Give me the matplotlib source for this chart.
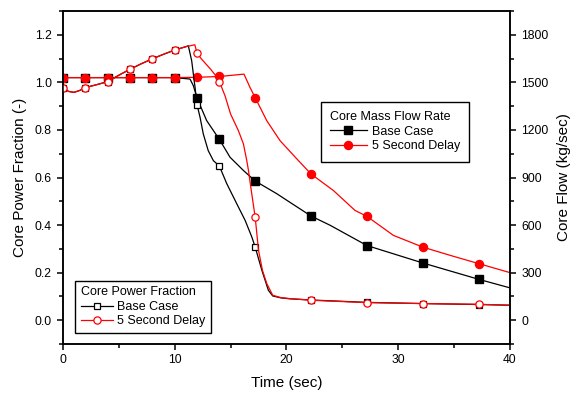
import numpy as np
import matplotlib
matplotlib.use("Agg")
import matplotlib.pyplot as plt
from matplotlib.ticker import MultipleLocator

plt.rcParams['font.family'] = ['Liberation Sans', 'DejaVu Sans']

# --- core power fraction (left axis) ---
t_pow_delay = [0.0, 0.5, 1.0, 1.5, 2.0, 3.0, 4.0, 5.0, 6.0, 7.0, 8.0, 9.0, 10.0,
               11.0, 11.8, 12.0, 12.4, 13.2, 13.8, 14.0, 14.5, 15.0, 15.7, 16.15,
               16.45, 16.6, 16.85, 17.2, 17.5, 17.85, 18.24, 18.77, 19.5, 20.3,
               22.2, 27.2, 32.2, 37.2, 40.0]
pow_delay = [0.978, 0.962, 0.958, 0.966, 0.978, 0.990, 1.003, 1.030, 1.055, 1.078,
             1.099, 1.118, 1.136, 1.150, 1.158, 1.123, 1.098, 1.056, 1.021, 1.003,
             0.944, 0.867, 0.797, 0.741, 0.671, 0.630, 0.546, 0.434, 0.294, 0.210,
             0.154, 0.105, 0.095, 0.091, 0.084, 0.074, 0.070, 0.067, 0.063]

t_pow_base = [0.0, 0.5, 1.0, 1.5, 2.0, 3.0, 4.0, 5.0, 6.0, 7.0, 8.0, 9.0, 10.0,
              11.0, 11.22, 11.52, 11.82, 12.0, 12.27, 12.56, 13.0, 13.46, 14.0,
              14.66, 15.55, 16.3, 16.9, 17.2, 17.8, 18.38, 18.77, 19.5, 20.3,
              22.2, 27.2, 32.2, 37.2, 40.0]
pow_base = [0.978, 0.962, 0.958, 0.966, 0.978, 0.990, 1.003, 1.030, 1.055, 1.078,
            1.099, 1.118, 1.136, 1.150, 1.154, 1.091, 0.979, 0.906, 0.853, 0.783,
            0.713, 0.671, 0.648, 0.574, 0.490, 0.420, 0.350, 0.308, 0.210, 0.126,
            0.102, 0.094, 0.090, 0.085, 0.075, 0.070, 0.066, 0.063]

# --- core mass flow rate (right axis, kg/sec) ---
t_flow_base = [0.0, 2.0, 4.0, 6.0, 8.0, 10.0, 11.37, 11.67, 12.0, 12.86, 14.0,
               14.95, 16.14, 17.2, 19.13, 20.3, 22.2, 23.9, 27.2, 32.2, 37.2, 40.0]
flow_base = [1530, 1530, 1530, 1530, 1530, 1530, 1521, 1479, 1401, 1259, 1140,
             1028, 945, 878, 798, 744, 657, 599, 471, 361, 258, 204]

t_flow_delay = [0.0, 2.0, 4.0, 6.0, 8.0, 10.0, 12.0, 14.0, 16.2, 16.74, 17.2,
                18.24, 19.43, 20.92, 22.2, 24.2, 26.14, 27.2, 29.57, 32.2, 34.65,
                37.2, 40.0]
flow_delay = [1530, 1530, 1530, 1530, 1530, 1530, 1532, 1537, 1552, 1468, 1404,
              1258, 1132, 1018, 922, 818, 692, 655, 535, 461, 409, 357, 300]

# times where the symbols sit
marks_early = [0, 2, 4, 6, 8, 10, 12, 14, 17.2, 22.2, 27.2, 32.2, 37.2]


def mark_idx(t, marks):
    t = np.asarray(t)
    return [int(np.argmin(np.abs(t - m))) for m in marks]


fig = plt.figure(figsize=(5.72, 3.96), dpi=100)
ax = fig.add_axes([0.110, 0.1313, 0.7816, 0.8409])
ax2 = ax.twinx()
ax.set_zorder(ax2.get_zorder() + 1)
ax.patch.set_visible(False)

# flow curves (right axis)
l_fb, = ax2.plot(t_flow_base, flow_base, color='black', lw=0.9, marker='s', ms=5.2,
                 markevery=mark_idx(t_flow_base, marks_early))
l_fd, = ax2.plot(t_flow_delay, flow_delay, color='red', lw=0.9, marker='o', ms=5.8,
                 markevery=mark_idx(t_flow_delay, marks_early))

# power curves (left axis)
l_pb, = ax.plot(t_pow_base, pow_base, color='black', lw=0.9, marker='s', ms=4.8,
                mfc='white', mew=0.9, markevery=mark_idx(t_pow_base, marks_early))
l_pd, = ax.plot(t_pow_delay, pow_delay, color='red', lw=0.9, marker='o', ms=5.2,
                mfc='white', mew=0.9, markevery=mark_idx(t_pow_delay, marks_early))

ax.set_xlim(0, 40)
ax.set_ylim(-0.1, 1.3)
ax2.set_ylim(-150, 1950)

ax.set_xticks([0, 10, 20, 30, 40])
ax.xaxis.set_minor_locator(MultipleLocator(5))
ax.set_yticks([0.0, 0.2, 0.4, 0.6, 0.8, 1.0, 1.2])
ax.yaxis.set_minor_locator(MultipleLocator(0.1))
ax2.set_yticks([0, 300, 600, 900, 1200, 1500, 1800])
ax2.yaxis.set_minor_locator(MultipleLocator(150))

for a in (ax, ax2):
    for s in a.spines.values():
        s.set_linewidth(1.1)
ax.tick_params(which='both', direction='out', top=False, right=False, labelsize=8.7,
               width=1.1, colors='black')
ax.tick_params(which='major', length=4.5)
ax.tick_params(which='minor', length=2.8)
ax2.tick_params(which='both', direction='out', labelsize=8.7, width=1.1)
ax2.tick_params(which='major', length=4.5)
ax2.tick_params(which='minor', length=2.8)
ax.tick_params(axis='x', pad=3)

ax.set_xlabel('Time (sec)', fontsize=11)
ax.set_ylabel('Core Power Fraction (-)', fontsize=11)
ax2.set_ylabel('Core Flow (kg/sec)', fontsize=11, rotation=90)
ax.xaxis.set_label_coords(0.5, -0.097)
ax.yaxis.set_label_coords(-0.08, 0.5)
ax2.yaxis.set_label_coords(1.105, 0.5)

leg1 = ax.legend([l_pb, l_pd], ['Base Case', '5 Second Delay'], title='Core Power Fraction',
                 loc='lower left', bbox_to_anchor=(0.027, 0.033), fontsize=9,
                 title_fontsize=9, alignment='left', frameon=True, fancybox=False,
                 edgecolor='black', framealpha=1, handlelength=2.6, borderpad=0.45,
                 labelspacing=0.2, handletextpad=0.35, borderaxespad=0)
leg1.get_frame().set_linewidth(1.0)
ax.add_artist(leg1)
leg2 = ax.legend([l_fb, l_fd], ['Base Case', '5 Second Delay'], title='Core Mass Flow Rate',
                 loc='upper left', bbox_to_anchor=(0.577, 0.727), fontsize=9,
                 title_fontsize=9, alignment='left', frameon=True, fancybox=False,
                 edgecolor='black', framealpha=1, handlelength=2.9, borderpad=0.75,
                 labelspacing=0.2, handletextpad=0.4, borderaxespad=0)
leg2.get_frame().set_linewidth(1.0)

fig.savefig('out.png', dpi=100)
